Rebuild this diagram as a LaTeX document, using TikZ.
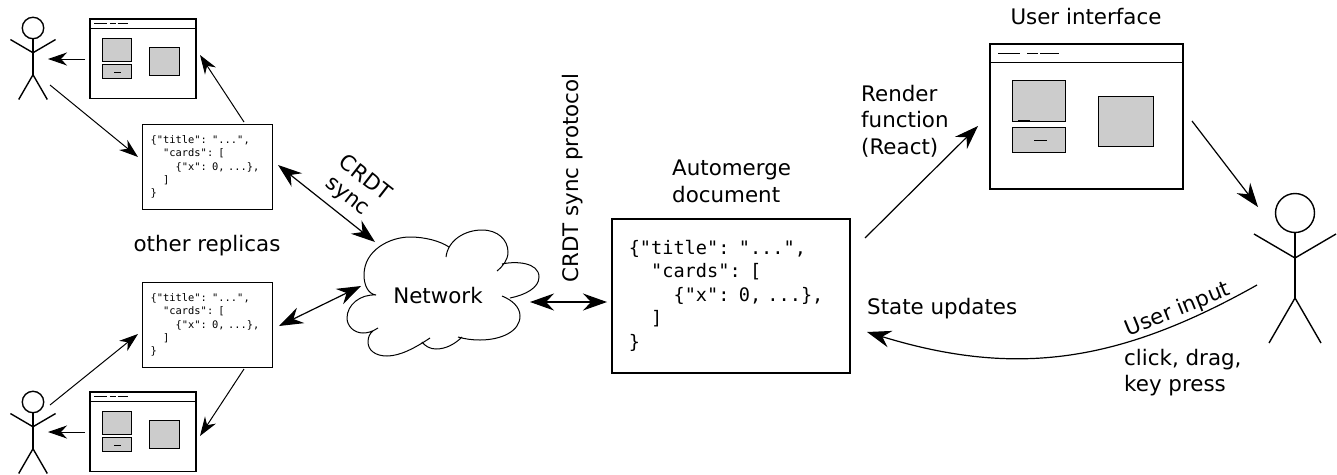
\documentclass[tikz,border=0pt]{standalone}
\usepackage{fontspec}
\setmainfont{DejaVu Sans}
\setmonofont{DejaVu Sans Mono}
\usetikzlibrary{arrows.meta}

\newcommand{\jsontext}{\{"title": "...",\\\phantom{xx}"cards": [\\\phantom{xxxx}\{"x": 0, ...\},\\\phantom{xx}]\\\}}

\tikzset{
    arrbig/.style={line width=1.2pt, -{Stealth[length=24pt,width=17pt,inset=8pt]}},
    arrboth/.style={line width=1.2pt, {Stealth[length=24pt,width=17pt,inset=8pt]}-{Stealth[length=24pt,width=17pt,inset=8pt]}},
    arrsmall/.style={line width=1pt, -{Stealth[length=19pt,width=13pt,inset=6pt]}},
    label/.style={font=\fontsize{21.4}{26.7}\selectfont, inner sep=0pt},
    jsonbig/.style={draw, line width=1.5pt, anchor=north west, minimum height=154pt, inner xsep=17pt, inner ysep=0pt,
        text width=204pt, align=left, font=\fontsize{18.6}{23.5}\selectfont\ttfamily},
    jsonsmall/.style={draw, line width=1.3pt, anchor=north west, minimum height=85pt, inner xsep=8pt, inner ysep=0pt,
        text width=114pt, align=left, font=\fontsize{10.4}{13.3}\selectfont\ttfamily},
    window/.pic={
        \draw[line width=1.4pt] (0,0) rectangle (193,145);
        \draw[line width=1pt] (0,18) -- (193,18);
        \draw[line width=1pt] (8,9) -- (30,9) (37,9) -- (48,9) (50,9) -- (69,9);
        \filldraw[fill=black!20, line width=1pt] (22,36) rectangle (75,77);
        \filldraw[fill=black!20, line width=1pt] (22,83) rectangle (75,108);
        \filldraw[fill=black!20, line width=1pt] (108,52) rectangle (163,102);
        \draw[line width=1pt] (28,76.5) -- (40,76.5) (44,96.5) -- (57,96.5);
    },
    person/.pic={
        \draw[line width=1.4pt] (0,0) circle (19.5);
        \draw[line width=1.4pt] (0,19.5) -- (0,85);
        \draw[line width=1.4pt] (-41,21) -- (0,45) -- (41,21);
        \draw[line width=1.4pt] (-26,130) -- (0,85) -- (26,130);
    },
}

\begin{document}
\begin{tikzpicture}[x=1pt, y=-1pt] %Replicas y documento
    \useasboundingbox (0,0) rectangle (1337,474);

    \pic[scale=0.55] (winTop) at (90,19) {window};
    \pic[scale=0.55] (winBot) at (90,392) {window};
    \pic (winMain) at (990,44) {window};

    \pic[scale=0.55] (userTop) at (33,28) {person};
    \pic[scale=0.55] (userBot) at (33,402) {person};
    \pic (userMain) at (1295,213) {person};

    \node[jsonsmall] (docTop) at (142,124) {\jsontext};
    \node[jsonsmall] (docBot) at (142,282) {\jsontext};
    \node[jsonbig] (docMain) at (611,218) {\jsontext};

    \node[label] (network) at (438,296) {Network};
    \node[label] (replicas) at (207,246) {other replicas};
    \node[label] (uiLabel) at (1086,17) {User interface};
    \node[label, align=left, anchor=west] (autoLabel) at (672,181) {Automerge\\document};
    \node[label, align=left, anchor=west] (renderLabel) at (861,121) {Render\\function\\(React)};
    \node[label, anchor=west] (stateLabel) at (867,309) {State updates};
    \node[label, align=left, anchor=west] (clickLabel) at (1124,372.5) {click, drag,\\key press};
    \node[label, rotate=22] (inputLabel) at (1178,310) {User input};
    \node[label, rotate=90] (protoLabel) at (573,178) {CRDT sync protocol};
    \node[label, rotate=-38] (crdtLabel) at (366,177) {CRDT};
    \node[label, rotate=-38] (syncLabel) at (346,198) {sync};

    \draw[line width=1pt]
        (376,295) .. controls (368,294) and (364,285) .. (364,275)
            .. controls (364,250) and (390,237) .. (410,237)
            .. controls (425,237) and (440,241) .. (449,247)
        (446,257) .. controls (448,240) and (465,230) .. (482,230)
            .. controls (498,230) and (508,240) .. (508,252)
            .. controls (508,260) and (503,266) .. (497,271)
        (502,264) .. controls (515,261) and (539,262) .. (539,277)
            .. controls (539,288) and (525,295) .. (510,298)
        (502,296) .. controls (512,300) and (520,307) .. (520,316)
            .. controls (520,332) and (500,340) .. (480,340)
            .. controls (472,340) and (465,339) .. (458,337)
        (462,337) .. controls (455,344) and (446,349) .. (436,349)
            .. controls (430,349) and (425,346) .. (422,342)
        (430,338) .. controls (415,348) and (400,356) .. (387,356)
            .. controls (375,356) and (368,350) .. (368,342)
            .. controls (368,337) and (370,333) .. (373,331)
        (378,328) .. controls (372,332) and (367,333) .. (363,333)
            .. controls (354,333) and (347,326) .. (347,318)
            .. controls (347,305) and (360,294) .. (376,295);

    \coordinate (A1) at (85,59);
    \coordinate (A2) at (48,59);
    \coordinate (B1) at (50,85);
    \coordinate (B2) at (138,157);
    \coordinate (C1) at (244,122);
    \coordinate (C2) at (200,55);
    \coordinate (D1) at (278,165);
    \coordinate (D2) at (375,242);
    \coordinate (E1) at (279,326);
    \coordinate (E2) at (361,286);
    \coordinate (F1) at (50,405);
    \coordinate (F2) at (138,334);
    \coordinate (G1) at (244,369);
    \coordinate (G2) at (200,436);
    \coordinate (H1) at (85,432);
    \coordinate (H2) at (48,432);
    \coordinate (I1) at (530,302);
    \coordinate (I2) at (607,302);
    \coordinate (J1) at (865,238);
    \coordinate (J2) at (978,126);
    \coordinate (K1) at (1192,121);
    \coordinate (K2) at (1258,207);
    \coordinate (L1) at (1257,285);
    \coordinate (L2) at (867,332);

    \draw[arrsmall] (A1) -- (A2);
    \draw[arrsmall] (B1) -- (B2);
    \draw[arrsmall] (C1) -- (C2);
    \draw[arrboth] (D1) -- (D2);
    \draw[arrboth] (E1) -- (E2);
    \draw[arrsmall] (F1) -- (F2);
    \draw[arrsmall] (G1) -- (G2);
    \draw[arrsmall] (H1) -- (H2);
    \draw[arrboth] (I1) -- (I2);
    \draw[arrbig] (J1) -- (J2);
    \draw[arrbig] (K1) -- (K2);
    \draw[arrbig] (L1) .. controls (1120,362) and (1017,378) .. (L2);
\end{tikzpicture}
\end{document}
